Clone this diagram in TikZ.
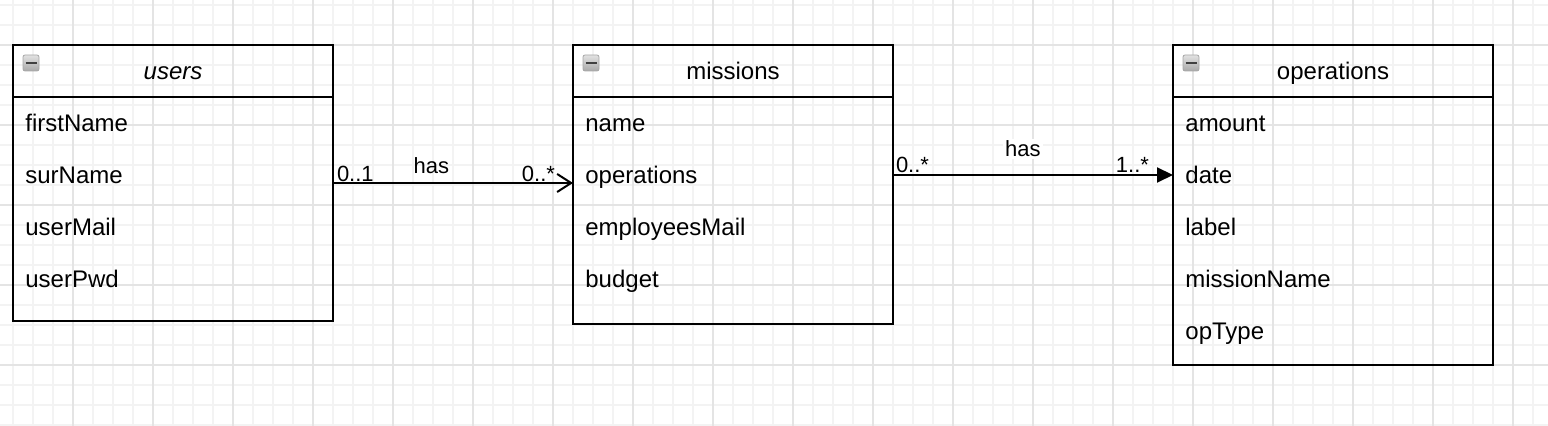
\documentclass[tikz,border=0pt]{standalone}
\usepackage{fontspec}
\setmainfont{Liberation Sans}
\usetikzlibrary{arrows.meta, positioning}
\definecolor{gridminor}{HTML}{F3F3F3}
\definecolor{gridmajor}{HTML}{E4E4E4}
\definecolor{icontop}{HTML}{E2E2E2}
\definecolor{iconbottom}{HTML}{A9A9A9}
\tikzstyle{classhead} = [draw, line width=1pt, rectangle, minimum width=160pt, minimum height=26pt, inner sep=0pt, outer sep=0pt, text height=11pt, text depth=2pt, font=\fontsize{12}{14}\selectfont]
\tikzstyle{classbody} = [draw, line width=1pt, rectangle, minimum width=160pt, inner sep=0pt, outer sep=0pt]
\tikzstyle{attr} = [anchor=west, inner sep=0pt, text height=11pt, text depth=2pt, font=\fontsize{12}{14}\selectfont]
\tikzstyle{mult} = [inner sep=0pt, font=\fontsize{11}{13}\selectfont]
\tikzstyle{assoc} = [line width=1pt]
\tikzstyle{minorline} = [gridminor, line width=0.75pt]
\tikzstyle{majorline} = [gridmajor, line width=0.75pt]
\tikzstyle{iconbox} = [top color=icontop, bottom color=iconbottom, draw=gray!70, line width=0.4pt, rounded corners=1pt]

\begin{document}
\begin{tikzpicture}[x=0.5pt, y=-0.5pt]
	\useasboundingbox (0,0) rectangle (1548,426);
	% background grid
	\foreach \gx in {0,...,76} \draw[minorline] (13+20*\gx,0) -- (13+20*\gx,426);
	\foreach \gy in {0,...,21} \draw[minorline] (0,5+20*\gy) -- (1548,5+20*\gy);
	\foreach \gx in {0,...,18} \draw[majorline] (73+80*\gx,0) -- (73+80*\gx,426);
	\foreach \gy in {0,...,4} \draw[majorline] (0,45+80*\gy) -- (1548,45+80*\gy);

	% classes
	\node[classhead] (users) at (173,71) {\textit{users}};
	\node[classbody, below=0pt of users, minimum height=112pt] (usersbody) {};
	\foreach \a [count=\i] in {firstName,surName,userMail,userPwd}
		\node[attr] (users-\i) at ([xshift=6pt, yshift=13pt-26pt*\i]usersbody.north west) {\a};

	\node[classhead] (missions) at (733,71) {missions};
	\node[classbody, below=0pt of missions, minimum height=113.5pt] (missionsbody) {};
	\foreach \a [count=\i] in {name,operations,employeesMail,budget}
		\node[attr] (missions-\i) at ([xshift=6pt, yshift=13pt-26pt*\i]missionsbody.north west) {\a};

	\node[classhead] (ops) at (1333,71) {operations};
	\node[classbody, below=0pt of ops, minimum height=134pt] (opsbody) {};
	\foreach \a [count=\i] in {amount,date,label,missionName,opType}
		\node[attr] (ops-\i) at ([xshift=6pt, yshift=13pt-26pt*\i]opsbody.north west) {\a};

	% collapse icons
	\foreach \c in {users,missions,ops} {
		\shade[iconbox] ([shift={(10,10)}]\c.north west) rectangle ++(16,16);
		\draw[black!75, line width=1pt] ([shift={(12.5,18)}]\c.north west) -- ++(11,0);
	}

	% associations
	\draw[assoc, -{Straight Barb[length=7pt, width=9pt]}] ([yshift=-4pt]usersbody.east |- users-2) -- ([yshift=-4pt]missionsbody.west |- users-2)
		node[mult, at start, anchor=base west, xshift=1.5pt, yshift=0.5pt] {0..1}
		node[mult, pos=0.41, anchor=base, yshift=4.5pt] {has}
		node[mult, at end, anchor=base east, xshift=-8.5pt, yshift=0.5pt] {0..*};
	\draw[assoc, -{Triangle[length=8pt, width=7.5pt]}] (missionsbody.east |- missions-2) -- (opsbody.west |- ops-2)
		node[mult, at start, anchor=base west, xshift=1pt, yshift=1pt] {0..*}
		node[mult, pos=0.464, anchor=base, yshift=9pt, fill=white, inner sep=1pt] {has}
		node[mult, at end, anchor=base east, xshift=-11.5pt, yshift=1pt] {1..*};
\end{tikzpicture}
\end{document}
